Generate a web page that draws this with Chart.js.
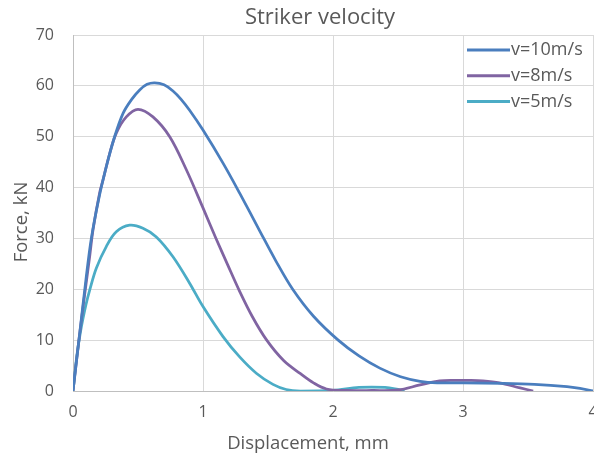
<!DOCTYPE html>
<html lang="en">
<head>
  <meta charset="UTF-8">
  <title>Striker velocity</title>
  <script src="https://cdn.jsdelivr.net/npm/chart.js"></script>
  <style>
    body {
      margin: 0;
      background: white;
    }
    .chart-box {
      width: 594px;
      height: 461px;
    }
  </style>
</head>
<body>

  <div class="chart-box">
    <canvas id="forceChart"></canvas>
  </div>

  <script>
    // Force vs displacement curves for three striker velocities
    const seriesLabels = ['v=10m/s', 'v=8m/s', 'v=5m/s'];
    const seriesColors = ['#4a7ebe', '#8064a2', '#4bacc6'];

    const dispV10 = [0, 0.05, 0.1, 0.141, 0.2, 0.256, 0.32, 0.385, 0.45, 0.513, 0.57, 0.628, 0.7, 0.769, 0.83, 0.897, 1.0, 1.154, 1.282, 1.436, 1.56, 1.69, 1.85, 2.04, 2.2, 2.36, 2.52, 2.67, 2.8, 3.0, 3.3, 3.55, 3.8, 3.9, 4.0];
    const forceV10 = [0, 11, 22, 30, 38, 44.1, 50, 54.6, 57.3, 59.2, 60.3, 60.6, 60.2, 59.0, 57.4, 55.2, 51.3, 44.8, 38.9, 31.5, 25.6, 20, 14.7, 10, 6.9, 4.5, 2.8, 1.9, 1.6, 1.6, 1.5, 1.3, 0.85, 0.5, 0];

    const dispV8 = [0, 0.05, 0.1, 0.128, 0.154, 0.205, 0.231, 0.28, 0.333, 0.41, 0.5, 0.615, 0.744, 0.872, 1.0, 1.1, 1.19, 1.28, 1.38, 1.49, 1.62, 1.75, 1.85, 1.95, 2.1, 2.3, 2.5, 2.67, 2.82, 2.95, 3.05, 3.15, 3.28, 3.44, 3.54];
    const forceV8 = [0, 11, 21, 26.4, 31.7, 39, 41.5, 46.5, 50.7, 53.9, 55.4, 53.9, 50, 43.5, 36, 30, 24.8, 19.7, 14.6, 10, 6, 3.4, 1.6, 0.4, 0.1, 0.1, 0.2, 1.2, 2.0, 2.1, 2.1, 2.0, 1.6, 0.6, 0];

    const dispV5 = [0, 0.03, 0.06, 0.1, 0.13, 0.18, 0.256, 0.333, 0.436, 0.538, 0.641, 0.769, 0.897, 1.0, 1.154, 1.282, 1.41, 1.538, 1.64, 1.75, 2.0, 2.2, 2.4, 2.5, 2.55];
    const forceV5 = [0, 7, 12, 17, 20, 24.2, 28.4, 31.3, 32.6, 32, 30.3, 26.4, 21.2, 16.6, 10.7, 6.7, 3.5, 1.3, 0.3, 0, 0.1, 0.7, 0.7, 0.3, 0];

    const xTicks = [0, 1, 2, 3, 4];
    const yTicks = [0, 10, 20, 30, 40, 50, 60, 70];

    const chartTitle = 'Striker velocity';
    const xTitle = 'Displacement, mm';
    const yTitle = 'Force, kN';

    const textColor = '#595959';
    const fontName = '"Open Sans", sans-serif';

    function toPoints(xs, ys) {
      return xs.map((x, i) => ({ x: x, y: ys[i] }));
    }

    // title, axis titles and the in-plot legend
    const decorPlugin = {
      id: 'decor',
      afterDraw(chart) {
        const ctx = chart.ctx;
        ctx.save();
        ctx.fillStyle = textColor;
        ctx.textAlign = 'center';
        ctx.textBaseline = 'middle';

        ctx.font = '22px ' + fontName;
        ctx.fillText(chartTitle, 320, 18);

        ctx.font = '18.5px ' + fontName;
        ctx.fillText(xTitle, 308, 444);

        ctx.save();
        ctx.translate(22, 222);
        ctx.rotate(-Math.PI / 2);
        ctx.fillText(yTitle, 0, 0);
        ctx.restore();

        // legend entries
        ctx.font = '18px ' + fontName;
        ctx.textAlign = 'left';
        chart.data.datasets.forEach((ds, i) => {
          const y = 50 + i * 25.8;
          ctx.strokeStyle = ds.borderColor;
          ctx.lineWidth = 3;
          ctx.beginPath();
          ctx.moveTo(467, y);
          ctx.lineTo(510, y);
          ctx.stroke();
          ctx.fillText(ds.label, 511, y);
        });
        ctx.restore();
      }
    };

    const datasets = [
      toPoints(dispV10, forceV10),
      toPoints(dispV8, forceV8),
      toPoints(dispV5, forceV5)
    ].map((pts, i) => ({
      label: seriesLabels[i],
      data: pts,
      borderColor: seriesColors[i],
      backgroundColor: seriesColors[i],
      borderWidth: 2.75,
      showLine: true,
      pointRadius: 0,
      tension: 0.35
    }));

    new Chart(document.getElementById('forceChart'), {
      type: 'scatter',
      data: { datasets: datasets },
      plugins: [decorPlugin],
      options: {
        responsive: true,
        maintainAspectRatio: false,
        animation: false,
        layout: { padding: { top: 35, right: 1, left: 0, bottom: 0 } },
        plugins: {
          legend: { display: false },
          tooltip: { enabled: false }
        },
        scales: {
          x: {
            type: 'linear',
            min: 0,
            max: 4,
            afterBuildTicks: axis => { axis.ticks = xTicks.map(v => ({ value: v })); },
            afterFit: axis => {
              axis.height = 70;
              axis.paddingLeft = 0;
              axis.paddingRight = 0;
            },
            grid: { color: '#d9d9d9', lineWidth: 1, drawTicks: false },
            border: { color: '#bfbfbf', width: 1 },
            ticks: {
              color: textColor,
              font: { family: fontName, size: 16 },
              padding: 12
            }
          },
          y: {
            type: 'linear',
            min: 0,
            max: 70,
            afterBuildTicks: axis => { axis.ticks = yTicks.map(v => ({ value: v })); },
            afterFit: axis => { axis.width = 73; },
            grid: { color: '#d9d9d9', lineWidth: 1, drawTicks: false },
            border: { color: '#bfbfbf', width: 1 },
            ticks: {
              color: textColor,
              font: { family: fontName, size: 16 },
              padding: 19
            }
          }
        }
      }
    });
  </script>

</body>
</html>
